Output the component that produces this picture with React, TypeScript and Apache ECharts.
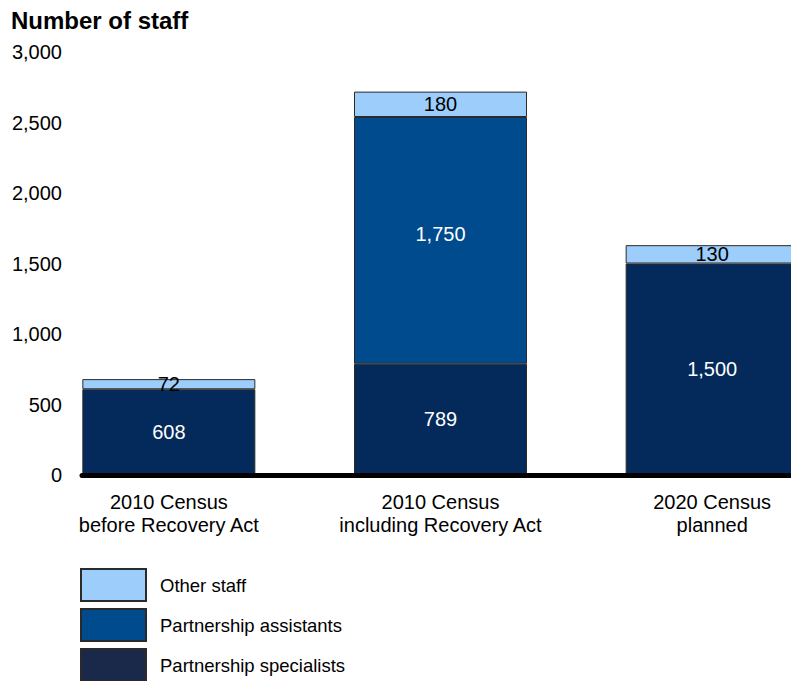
import React, { useEffect, useRef } from "react";
import * as echarts from "echarts";

const categories = [
  "2010 Census\nbefore Recovery Act",
  "2010 Census\nincluding Recovery Act",
  "2020 Census\nplanned",
];
const specialists = [608, 789, 1500];
const assistants = [null, 1750, null];
const otherStaff = [72, 180, 130];
const yTicks = { min: 0, max: 3000, interval: 500 };
const legendNames = ["Other staff", "Partnership assistants", "Partnership specialists"];

const FONT = "'Liberation Sans', Arial, sans-serif";
const C_OTHER = "#9ccdfb";
const C_ASSIST = "#004b8d";
const C_SPEC = "#032a5a";
const C_SPEC_LEGEND = "#1a2849";

const fmt = (v: number) => Number(v).toLocaleString("en-US");

export default function App() {
  const ref = useRef<HTMLDivElement>(null);
  useEffect(() => {
    if (!ref.current) return;
    const chart = echarts.init(ref.current, null, { renderer: "svg" });
    const border = { borderColor: "#2a2a2a", borderWidth: 1 };
    const legends = legendNames.map((name, i) => ({
      orient: "vertical",
      left: 80,
      top: 568 + i * 40,
      padding: 0,
      itemWidth: 65,
      itemHeight: 32,
      icon: "rect",
      selectedMode: false,
      textStyle: { fontFamily: FONT, fontSize: 18.5, color: "#000", padding: [0, 0, 0, 9] },
      data: [
        i === 2 ? { name, itemStyle: { color: C_SPEC_LEGEND } } : { name },
      ],
    }));
    chart.setOption({
      animation: false,
      textStyle: { fontFamily: FONT },
      title: {
        text: "Number of staff",
        left: 6,
        top: 3,
        textStyle: { fontFamily: FONT, fontSize: 24, fontWeight: "bold", color: "#000" },
      },
      legend: legends,
      grid: [
        { left: 82, width: 740, top: 52, bottom: 206, outerBoundsMode: "none", containLabel: false },
        { left: 33, width: 815, top: 52, bottom: 206, outerBoundsMode: "none", containLabel: false },
      ],
      xAxis: [
        {
          gridIndex: 0,
          type: "category",
          data: categories,
          axisLabel: { show: false },
          axisTick: { show: false },
          axisLine: { lineStyle: { color: "#000", width: 5 } },
          z: 10,
        },
        {
          gridIndex: 1,
          type: "category",
          data: categories,
          axisLine: { show: false },
          axisTick: { show: false },
          axisLabel: {
            fontFamily: FONT,
            fontSize: 20,
            color: "#000",
            margin: 15,
            lineHeight: 23,
            interval: 0,
          },
        },
      ],
      yAxis: [
        {
          gridIndex: 0,
          type: "value",
          ...yTicks,
          splitLine: { show: false },
          axisLine: { show: false },
          axisTick: { show: false },
          axisLabel: {
            fontFamily: FONT,
            fontSize: 20,
            color: "#000",
            margin: 20,
            formatter: (v: number) => fmt(v),
          },
        },
        {
          gridIndex: 1,
          type: "value",
          ...yTicks,
          show: false,
          splitLine: { show: false },
        },
      ],
      series: [
        {
          name: "Partnership specialists",
          type: "bar",
          stack: "s",
          xAxisIndex: 1,
          yAxisIndex: 1,
          barWidth: 173,
          data: specialists,
          itemStyle: { color: C_SPEC, ...border },
          label: {
            show: true,
            position: "inside",
            color: "#fff",
            fontFamily: FONT,
            fontSize: 20,
            formatter: (p: any) => fmt(p.value),
          },
        },
        {
          name: "Partnership assistants",
          type: "bar",
          stack: "s",
          xAxisIndex: 1,
          yAxisIndex: 1,
          barWidth: 173,
          data: assistants,
          itemStyle: { color: C_ASSIST, ...border },
          label: {
            show: true,
            position: "inside",
            color: "#fff",
            fontFamily: FONT,
            fontSize: 20,
            offset: [0, -6],
            formatter: (p: any) => fmt(p.value),
          },
        },
        {
          name: "Other staff",
          type: "bar",
          stack: "s",
          xAxisIndex: 1,
          yAxisIndex: 1,
          barWidth: 173,
          data: otherStaff,
          itemStyle: { color: C_OTHER, ...border },
          label: {
            show: true,
            position: "inside",
            color: "#000",
            fontFamily: FONT,
            fontSize: 20,
            formatter: (p: any) => fmt(p.value),
          },
        },
      ],
    });
    return () => chart.dispose();
  }, []);
  return (
    <div
      ref={ref}
      style={{ position: "fixed", left: 0, top: 0, width: 791, height: 681, background: "#fff" }}
    />
  );
}
